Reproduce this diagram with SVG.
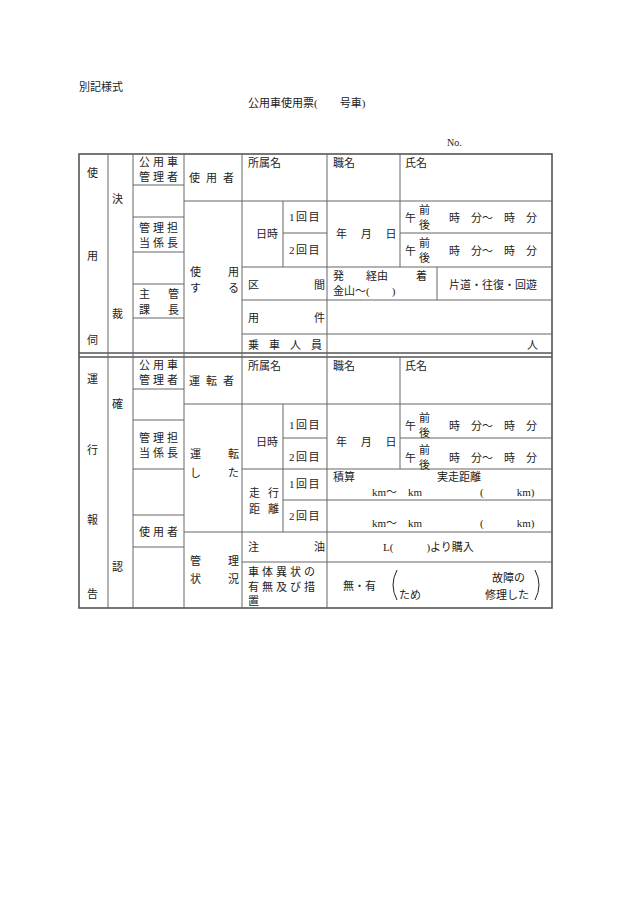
<svg xmlns="http://www.w3.org/2000/svg" width="630" height="903" viewBox="0 0 630 903">
<style>
text{font-family:"Liberation Serif","Noto Sans CJK JP",serif;font-size:11px;fill:#222}
.l{stroke:#666;stroke-width:1;fill:none}
.o{stroke:#555;stroke-width:1.6;fill:none}
.s{letter-spacing:3px}
.w{letter-spacing:6px}
.k{letter-spacing:1.5px}
</style>
<rect width="630" height="903" fill="#fff"/>
<g id="header">
<text x="79" y="91">別記様式</text>
<text x="248" y="107">公用車使用票(　　号車)</text>
<text x="447" y="146" style="font-size:10px">No.</text>
</g>
<g id="connectors">
<rect class="o" x="79" y="154" width="473" height="454"/>
<line class="o" x1="79" y1="353" x2="552" y2="353"/>
<line class="o" x1="79" y1="357" x2="552" y2="357"/>
<path class="l" d="M108 154V608M133 154V608M184 154V608M242 154V608M327 154V608
M400 154V267M283 201V267M437 267V300
M133 185H184M133 217H184M133 252H184M133 284H184M133 318H184
M184 201H552M283 233H327M400 233H552M242 267H552M242 300H552M242 334H552
M400 357V469M283 404V532
M133 389H184M133 420H184M133 469H184M133 515H184M133 547H184
M184 404H552M283 438H327M400 438H552M242 469H552M283 500H552M184 532H552M242 562H552"/>
</g>
<g id="left">
<text x="87" y="177">使</text><text x="87" y="260">用</text><text x="87" y="344">伺</text>
<text x="112" y="203">決</text><text x="112" y="318">裁</text>
<text x="87" y="383">運</text><text x="87" y="454">行</text><text x="87" y="524">報</text><text x="87" y="598">告</text>
<text x="112" y="408">確</text><text x="112" y="571">認</text>
</g>
<g id="approvers">
<text class="s" x="139" y="166">公用車</text><text class="s" x="139" y="181">管理者</text>
<text class="s" x="139" y="232">管理担</text><text class="s" x="139" y="247">当係長</text>
<text x="139" y="298">主</text><text x="168" y="298">管</text><text x="139" y="314">課</text><text x="168" y="314">長</text>
<text class="s" x="139" y="369">公用車</text><text class="s" x="139" y="384">管理者</text>
<text class="s" x="139" y="442">管理担</text><text class="s" x="139" y="457">当係長</text>
<text class="s" x="139" y="536">使用者</text>
</g>
<g id="use">
<text class="w" x="189" y="182">使用者</text>
<text x="248" y="167">所属名</text><text x="333" y="167">職名</text><text x="405" y="167">氏名</text>
<text x="190" y="276">使</text><text x="228" y="276">用</text><text x="190" y="292">す</text><text x="228" y="292">る</text>
<text x="256" y="238">日時</text><text class="k" x="289" y="221">1回目</text><text class="k" x="289" y="254">2回目</text>
<text x="336" y="238">年　 月　 日</text>
<text x="405" y="222">午</text><text x="419" y="214">前</text><text x="419" y="229">後</text><text x="449" y="222">時　分〜　時　分</text>
<text x="405" y="255">午</text><text x="419" y="247">前</text><text x="419" y="262">後</text><text x="449" y="255">時　分〜　時　分</text>
<text x="248" y="289">区</text><text x="314" y="289">間</text>
<text x="333" y="280">発</text><text x="366" y="280">経由</text><text x="416" y="280">着</text>
<text x="333" y="295">金山〜(　　)</text>
<text x="449" y="289">片道・往復・回遊</text>
<text x="248" y="322">用</text><text x="314" y="322">件</text>
<text x="248" y="349" style="letter-spacing:10px">乗車人員</text><text x="527" y="349">人</text>
</g>
<g id="operation">
<text class="w" x="189" y="385">運転者</text>
<text x="248" y="370">所属名</text><text x="333" y="370">職名</text><text x="405" y="370">氏名</text>
<text x="190" y="458">運</text><text x="228" y="458">転</text><text x="190" y="477">し</text><text x="228" y="477">た</text>
<text x="256" y="446">日時</text><text class="k" x="289" y="429">1回目</text><text class="k" x="289" y="461">2回目</text>
<text x="336" y="446">年　 月　 日</text>
<text x="405" y="430">午</text><text x="419" y="422">前</text><text x="419" y="437">後</text><text x="449" y="430">時　分〜　時　分</text>
<text x="405" y="462">午</text><text x="419" y="454">前</text><text x="419" y="469">後</text><text x="449" y="462">時　分〜　時　分</text>
<text x="249" y="497">走</text><text x="268" y="497">行</text><text x="249" y="513">距</text><text x="268" y="513">離</text>
<text class="k" x="289" y="488">1回目</text><text class="k" x="289" y="520">2回目</text>
<text x="333" y="481">積算</text><text x="437" y="481">実走距離</text>
<text x="372" y="496">km〜　km</text><text x="480" y="496">(　　　km)</text>
<text x="372" y="527">km〜　km</text><text x="480" y="527">(　　　km)</text>
<text x="190" y="565">管</text><text x="228" y="565">理</text><text x="190" y="583">状</text><text x="228" y="583">況</text>
<text x="248" y="551">注</text><text x="314" y="551">油</text>
<text x="383" y="551">L(　　　)より購入</text>
<text x="248" y="576" style="letter-spacing:3px">車体異状の</text>
<text x="248" y="591" style="letter-spacing:3px">有無及び措</text>
<text x="248" y="605">置</text>
<text x="343" y="590">無・有</text>
<path d="M397 570Q389 585 397 600M535 570Q543 585 535 600" stroke="#222" stroke-width="1" fill="none"/>
<text x="399" y="599">ため</text>
<text x="492" y="582">故障の</text><text x="485" y="599">修理した</text>
</g>
</svg>
